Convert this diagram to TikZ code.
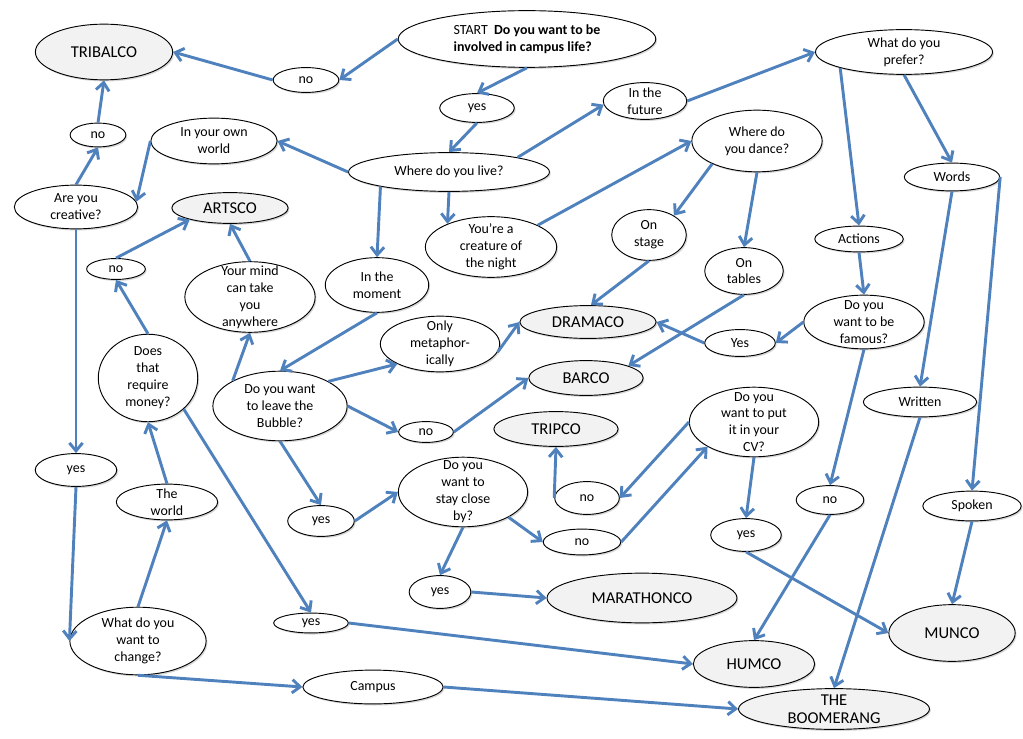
\documentclass[tikz,border=0pt]{standalone}
\usepackage{fontspec}
\setmainfont{Carlito}
\usetikzlibrary{shapes.geometric}
\usetikzlibrary{arrows.meta}
\usetikzlibrary{shadows}
\definecolor{linkblue}{RGB}{79, 129, 189}
\definecolor{clubgray}{RGB}{242, 242, 242}
\tikzstyle{choice} = [
	ellipse,
	draw=black,
	line width=0.7pt,
	fill=white,
	inner sep=-30pt,
	align=center,
	font=\fontsize{10.5}{12.75}\selectfont,
	drop shadow={shadow xshift=1pt, shadow yshift=-1.2pt, fill=black!45, opacity=0.35}
]
\tikzstyle{club} = [
	choice,
	fill=clubgray,
	font=\fontsize{12.5}{15}\selectfont
]
\tikzstyle{link} = [
	-{Straight Barb[length=6pt, width=10pt]},
	line width=2.2pt,
	draw=linkblue
]
\tikzset{
	esize/.style 2 args={
		minimum width=#1*0.75pt,
		minimum height=#2*0.75pt
	},
}

\begin{document}
\begin{tikzpicture}[x=0.0265cm, y=-0.0265cm]
	\useasboundingbox (0,0) rectangle (1023,739);

	%
	% Clubs
	\node[club, esize={138}{56}] (tribalco) at (104,52) {TRIBALCO};
	\node[club, esize={117}{31}] (artsco) at (230,208) {ARTSCO};
	\node[club, esize={137}{33}] (dramaco) at (588,322) {DRAMACO};
	\node[club, esize={115}{35}] (barco) at (586,378) {BARCO};
	\node[club, esize={125}{35}] (tripco) at (556,429) {TRIPCO};
	\node[club, esize={191}{50}] (marathonco) at (642,598) {MARATHONCO};
	\node[club, esize={127}{57}] (munco) at (952,633) {MUNCO};
	\node[club, esize={122}{47}] (humco) at (754,664) {HUMCO};
	\node[club, esize={192}{41}, font=\fontsize{12.5}{13.5}\selectfont] (boomerang) at (834,709) {THE\\BOOMERANG};

	%
	% Questions
	\node[choice, esize={259}{57}, align=left] (start) at (527,39) {START~~\textbf{Do you want to be}\\\textbf{involved in campus life?}};
	\node[choice, esize={202}{39}] (live) at (449,172) {Where do you live?};
	\node[choice, esize={124}{44}] (creative) at (76,207) {Are you\\creative?};
	\node[choice, esize={100}{88}] (money) at (148,378) {Does\\that\\require\\money?};
	\node[choice, esize={137}{68}] (change) at (138,641) {What do you\\want to\\change?};
	\node[choice, esize={135}{70}] (bubble) at (280,406) {Do you want\\to leave the\\Bubble?};
	\node[choice, esize={130}{70}] (close) at (463,492) {Do you\\want to\\stay close\\by?};
	\node[choice, esize={131}{62}] (dance) at (757,141) {Where do\\you dance?};
	\node[choice, esize={178}{45}] (prefer) at (904,52) {What do you\\prefer?};
	\node[choice, esize={121}{54}] (famous) at (864,322) {Do you\\want to be\\famous?};
	\node[choice, esize={130}{70}] (cv) at (754,422) {Do you\\want to put\\it in your\\CV?};

	%
	% Answers
	\node[choice, esize={127}{46}] (ownworld) at (214,141) {In your own\\world};
	\node[choice, esize={132}{61}] (creature) at (491,247) {You’re a\\creature of\\the night};
	\node[choice, esize={131}{71}] (mind) at (250,297) {Your mind\\can take\\you\\anywhere};
	\node[choice, esize={104}{55}] (moment) at (377,285) {In the\\moment};
	\node[choice, esize={120}{56}] (metaph) at (440,344) {Only\\metaphor-\\ically};
	\node[choice, esize={84}{37}] (future) at (645,101) {In the\\future};
	\node[choice, esize={96}{28}] (words) at (952,177) {Words};
	\node[choice, esize={75}{51}] (stage) at (649,235) {On\\stage};
	\node[choice, esize={89}{26}] (actions) at (859,239) {Actions};
	\node[choice, esize={79}{47}] (tables) at (744,271) {On\\tables};
	\node[choice, esize={114}{30}] (written) at (920,402) {Written};
	\node[choice, esize={102}{36}] (world) at (167,502) {The\\world};
	\node[choice, esize={99}{30}] (spoken) at (972,506) {Spoken};
	\node[choice, esize={141}{34}] (campus) at (373,687) {Campus};

	%
	% Yes and no
	\node[choice, esize={66}{25}] (noA) at (306,80) {no};
	\node[choice, esize={75}{29}] (yesA) at (477,108) {yes};
	\node[choice, esize={56}{24}] (noB) at (98,135) {no};
	\node[choice, esize={59}{21}] (noC) at (116,269) {no};
	\node[choice, esize={71}{27}] (yesF) at (740,343) {Yes};
	\node[choice, esize={55}{21}] (noD) at (426,432) {no};
	\node[choice, esize={82}{33}] (yesB) at (76,470) {yes};
	\node[choice, esize={67}{31}] (yesC) at (321,521) {yes};
	\node[choice, esize={65}{33}] (noE) at (587,498) {no};
	\node[choice, esize={78}{26}] (noF) at (582,542) {no};
	\node[choice, esize={68}{29}] (noG) at (830,500) {no};
	\node[choice, esize={71}{33}] (yesD) at (746,535) {yes};
	\node[choice, esize={62}{33}] (yesE) at (440,592) {yes};
	\node[choice, esize={75}{20}] (yesG) at (311,623) {yes};

	%
	% Arrows

	% top and left side
	\draw[link] (start.west) -- (noA.east);
	\draw[link] (noA.west) -- (tribalco.east);
	\draw[link] (start.south) -- (yesA.north);
	\draw[link] (yesA.south) -- (live.north);
	\draw[link] (live.west) -- (ownworld.east);
	\draw[link] (ownworld.west) -- (creative.5);
	\draw[link] (creative.north) -- (noB.south);
	\draw[link] (noB.north) -- (tribalco.south);
	\draw[link] (creative.south) -- (yesB.north);
	\draw[link] (yesB.south) -- (change.west);
	\draw[link] (change.north) -- (world.south);
	\draw[link] (world.north) -- (money.south);
	\draw[link] (money.north) -- (noC.south);
	\draw[link] (noC.north) -- (artsco.196);
	\draw[link] (money.-41) -- (yesG.north);
	\draw[link] (yesG.east) -- (humco.west);
	\draw[link] (change.south) -- (campus.west);
	\draw[link] (campus.east) -- (boomerang.west);

	% where do you live
	\draw[link] (live.192) -- (moment.north);
	\draw[link] (live.south) -- (creature.152);
	\draw[link] (live.12) -- (future.185);
	\draw[link] (future.east) -- (prefer.west);
	\draw[link] (creature.25) -- (dance.west);
	\draw[link] (dance.207) -- (stage.38);
	\draw[link] (dance.south) -- (tables.north);
	\draw[link] (stage.south) -- (dramaco.80);
	\draw[link] (tables.south) -- (barco.16);

	% what do you prefer
	\draw[link] (prefer.194) -- (actions.north);
	\draw[link] (prefer.south) -- (words.north);
	\draw[link] (actions.south) -- (famous.north);
	\draw[link] (famous.west) -- (yesF.east);
	\draw[link] (yesF.west) -- (dramaco.east);
	\draw[link] (famous.south) -- (noG.north);
	\draw[link] (noG.south) -- (humco.north);
	\draw[link] (words.south) -- (written.north);
	\draw[link] (words.east) -- (spoken.north);
	\draw[link] (written.south) -- (boomerang.north);
	\draw[link] (spoken.south) -- (munco.north);

	% leave the bubble
	\draw[link] (moment.south) -- (bubble.north);
	\draw[link] (bubble.152) -- (mind.south);
	\draw[link] (mind.north) -- (artsco.south);
	\draw[link] (bubble.27) -- (metaph.205);
	\draw[link] (metaph.352) -- (dramaco.west);
	\draw[link] (bubble.east) -- (noD.west);
	\draw[link] (noD.east) -- (barco.west);
	\draw[link] (bubble.south) -- (yesC.north);
	\draw[link] (yesC.east) -- (close.west);
	\draw[link] (close.south) -- (yesE.north);
	\draw[link] (yesE.east) -- (marathonco.west);
	\draw[link] (close.331) -- (noF.west);
	\draw[link] (noF.east) -- (cv.208);
	\draw[link] (cv.west) -- (noE.east);
	\draw[link] (noE.west) -- (tripco.south);
	\draw[link] (cv.south) -- (yesD.north);
	\draw[link] (yesD.south) -- (munco.west);

\end{tikzpicture}
\end{document}
